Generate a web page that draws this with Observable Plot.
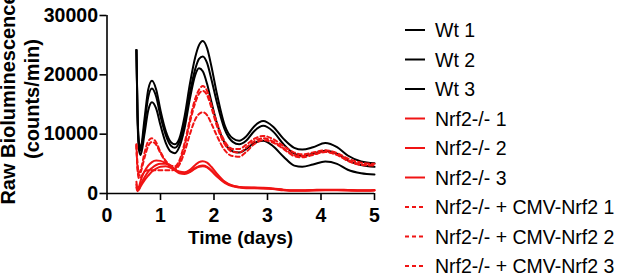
<!DOCTYPE html>
<html><head><meta charset="utf-8">
<script src="https://cdn.jsdelivr.net/npm/d3@7"></script>
<script src="https://cdn.jsdelivr.net/npm/@observablehq/plot@0.6"></script>
<style>
body{margin:0;background:#fff}
svg{font-family:"Liberation Sans",Arial,sans-serif}
</style>
</head><body><div id="chart"></div>
<script>
const times = [0.55,0.57,0.6,0.63,0.7,0.77,0.84,0.92,1.0,1.1,1.2,1.27,1.35,1.45,1.55,1.65,1.72,1.79,1.87,1.95,2.05,2.2,2.35,2.47,2.6,2.75,2.92,3.1,3.3,3.5,3.65,3.85,4.08,4.3,4.5,4.75,5.0];

const wt1 = [24200,14000,8500,7800,12500,17500,19000,17500,14000,10500,8600,8300,9200,13000,18500,23000,25000,25700,24500,21500,17000,11500,9300,8900,9600,11300,12200,11300,9200,7700,7400,7800,8500,7800,6400,5400,5100];
const wt2 = [24200,13500,8000,7200,11500,16200,17700,16300,13000,9800,8000,7700,8600,12000,17000,21000,22700,23100,22000,19300,15500,10800,8700,8300,8900,10500,11400,10500,8300,6700,6300,6700,7200,6700,5600,4800,4500];
const wt3 = [24200,13000,7200,6500,10000,14000,15400,14300,11500,8500,7000,6800,7800,11000,16000,20000,21100,20600,18500,15500,12000,8500,7100,6900,7500,8500,8900,8000,6200,4700,4500,4900,5400,5000,4000,3400,3200];

const ko1 = [2000,600,1200,2200,3700,4700,5300,5550,5500,5100,4500,4000,3700,3600,4000,4800,5300,5450,5200,4500,3400,2000,1300,1100,1000,1000,950,850,650,550,550,600,650,650,600,550,600];
const ko2 = [1500,500,800,1500,2700,3700,4300,4800,5000,5000,4600,4100,3600,3400,3700,4300,4600,4700,4500,3900,3000,1900,1300,1100,1000,950,900,800,600,500,500,550,600,600,550,500,550];
const ko3 = [1000,400,700,1200,2200,3000,3700,4200,4500,4600,4300,3900,3400,3300,3600,4200,4500,4600,4400,3800,2900,1800,1200,1000,900,900,850,750,550,450,450,500,550,550,500,450,500];

const cmv1 = [8300,5000,3500,4000,6800,8800,9300,8600,7000,5500,4700,4600,5500,8500,12500,16000,17500,18100,17300,15000,12000,8800,7500,7500,8200,9200,9700,9200,8000,6900,6600,6900,7300,6800,5900,5200,5000];
const cmv2 = [8200,4500,3000,3600,6000,8000,8700,8200,6800,5300,4400,4300,5200,8000,12000,15300,16800,17300,16600,14500,11500,8300,7000,6900,7700,8800,9300,8800,7600,6500,6300,6600,7000,6500,5600,4900,4800];
const cmv3 = [8000,4000,2500,2700,3700,3900,3900,3900,3900,3900,3900,4000,4800,7000,10000,12500,13400,13700,13200,11800,9800,7300,6300,6200,7000,8300,9000,8600,7500,6300,6100,6500,7000,6500,5500,4800,4700];

const seriesNames = ["Wt 1","Wt 2","Wt 3","Nrf2-/- 1","Nrf2-/- 2","Nrf2-/- 3","Nrf2-/- + CMV-Nrf2 1","Nrf2-/- + CMV-Nrf2 2","Nrf2-/- + CMV-Nrf2 3"];
const seriesGroups = ["wt","wt","wt","ko","ko","ko","cmv","cmv","cmv"];
const seriesValues = [wt1,wt2,wt3,ko1,ko2,ko3,cmv1,cmv2,cmv3];
const xTicks = [0,1,2,3,4,5];
const yTicks = [0,10000,20000,30000];
const xLabel = "Time (days)";
const yLabelLines = ["Raw Bioluminescence","(counts/min)"];

const RED = "#f01414";
const groupStyle = {
  wt: {stroke:"#000", dash:null},
  ko: {stroke:RED, dash:null},
  cmv: {stroke:RED, dash:"4,3"}
};

const rows = seriesNames.flatMap((name,i)=>times.map((t,j)=>({name, group:seriesGroups[i], t, v:seriesValues[i][j]})));

function lineFor(group){
  const s = groupStyle[group];
  const o = {x:"t", y:"v", z:"name", stroke:s.stroke, strokeWidth:2, curve:"monotone-x"};
  if (s.dash) o.strokeDasharray = s.dash;
  return Plot.line(rows.filter(d=>d.group===group), o);
}

const plot = Plot.plot({
  width:617, height:273,
  marginLeft:106.5, marginRight:243, marginTop:15, marginBottom:80,
  style:{background:"#fff", color:"#000", fontFamily:"'Liberation Sans',Arial,sans-serif", fontSize:"18px"},
  x:{domain:[0,5]},
  y:{domain:[0,30000]},
  marks:[
    lineFor("wt"),
    lineFor("ko"),
    lineFor("cmv"),
    Plot.ruleY([0],{stroke:"#000", strokeWidth:1.6}),
    Plot.ruleX([0],{stroke:"#000", strokeWidth:1.6}),
    Plot.axisX({ticks:xTicks, tickFormat:d=>String(d), tickSize:7, tickPadding:8, strokeWidth:1.6, label:null}),
    Plot.axisY({ticks:yTicks, tickFormat:d=>String(d), tickSize:7, tickPadding:2, strokeWidth:1.6, label:null})
  ]
});

const svg = d3.select(plot);
svg.selectAll('g[aria-label="x-axis tick label"], g[aria-label="y-axis tick label"]')
  .attr("font-size",19.5).attr("font-weight","bold").attr("fill","#000");

// axis titles
svg.append("text").attr("x",240.5).attr("y",244).attr("text-anchor","middle")
  .attr("font-size",19).attr("font-weight","bold").attr("fill","#000").text(xLabel);
const yt = svg.append("text").attr("transform","translate(0,99) rotate(-90)")
  .attr("text-anchor","middle").attr("font-size",20).attr("font-weight","bold").attr("fill","#000");
yt.append("tspan").attr("x",0).attr("y",15).text(yLabelLines[0]);
yt.append("tspan").attr("x",0).attr("y",39).text(yLabelLines[1]);

// legend
const lg = svg.append("g").attr("text-anchor","start");
seriesNames.forEach((name,i)=>{
  const s = groupStyle[seriesGroups[i]];
  const y = 30 + i*29.5;
  const ln = lg.append("line").attr("x1",405).attr("x2",425).attr("y1",y).attr("y2",y)
    .attr("stroke",s.stroke).attr("stroke-width",2);
  if (s.dash) ln.attr("stroke-dasharray",s.dash);
  lg.append("text").attr("x",435).attr("y",y).attr("dy","0.36em").attr("text-anchor","start")
    .attr("font-size",19.5).attr("font-weight","normal").attr("fill","#000").text(name);
});

document.getElementById("chart").appendChild(plot);
</script>
</body></html>
